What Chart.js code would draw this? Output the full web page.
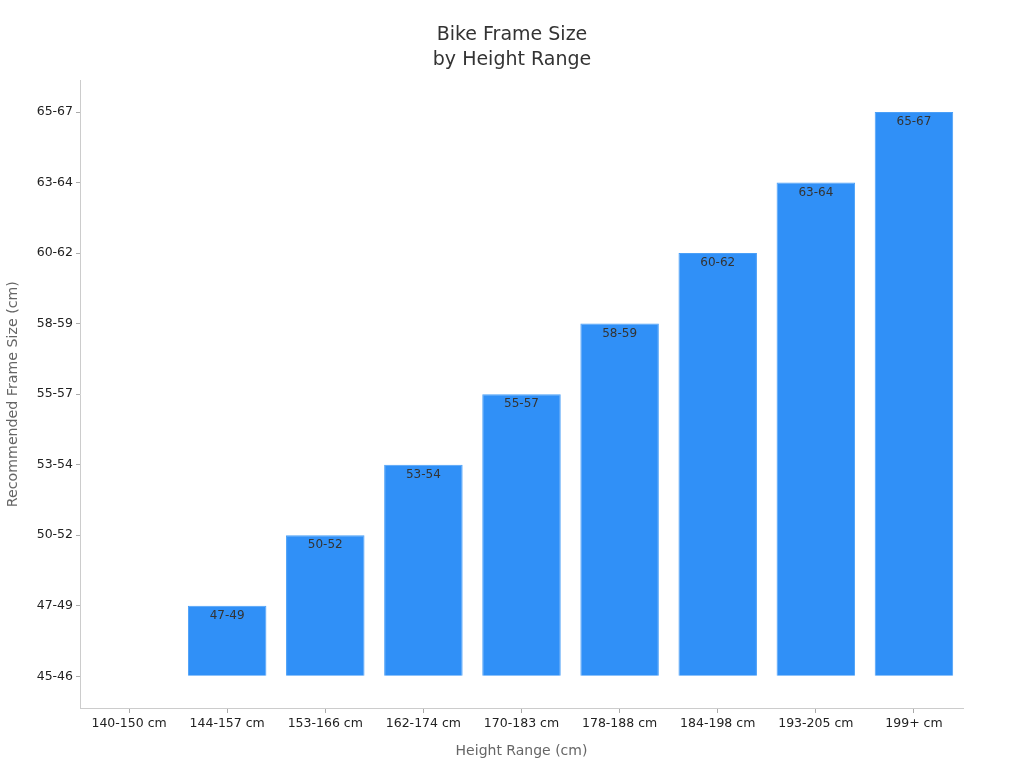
<!DOCTYPE html>
<html>
<head>
<meta charset="utf-8">
<script src="https://cdn.jsdelivr.net/npm/chart.js@4.4.0/dist/chart.umd.min.js"></script>
<style>
  html, body { margin: 0; padding: 0; background: #fff; }
  #wrap { width: 1024px; height: 768px; }
</style>
</head>
<body>
<div id="wrap"><canvas id="chart" width="1024" height="768"></canvas></div>
<script>
// Height ranges on the x axis
const heightRanges = ['140-150 cm', '144-157 cm', '153-166 cm', '162-174 cm', '170-183 cm',
  '178-188 cm', '184-198 cm', '193-205 cm', '199+ cm'];

// Frame size tick labels on the y axis (bottom to top)
const frameSizeTicks = ['45-46', '47-49', '50-52', '53-54', '55-57', '58-59', '60-62', '63-64', '65-67'];

// Recommended frame size per height range
const frameSizes = ['45-46', '47-49', '50-52', '53-54', '55-57', '58-59', '60-62', '63-64', '65-67'];

const frameLevels = frameSizes.map(s => frameSizeTicks.indexOf(s));

const FONT = "'DejaVu Sans', sans-serif";

// Draws the frame size text just inside the top of each bar
const barLabels = {
  id: 'barLabels',
  afterDatasetsDraw(chart) {
    const ctx = chart.ctx;
    const meta = chart.getDatasetMeta(0);
    ctx.save();
    ctx.font = '12px ' + FONT;
    ctx.fillStyle = '#333';
    ctx.textAlign = 'center';
    ctx.textBaseline = 'top';
    meta.data.forEach((bar, i) => {
      if (frameLevels[i] <= 0) return;
      ctx.fillText(frameSizes[i], bar.x, bar.y + 4);
    });
    ctx.restore();
  }
};

new Chart(document.getElementById('chart'), {
  type: 'bar',
  data: {
    labels: heightRanges,
    datasets: [{
      data: frameLevels,
      backgroundColor: '#3090f7',
      borderColor: '#4a9ff7',
      borderWidth: 1,
      categoryPercentage: 1,
      barPercentage: 0.8
    }]
  },
  options: {
    responsive: false,
    animation: false,
    layout: { padding: { top: 10, left: 0, right: 0, bottom: 0 } },
    plugins: {
      legend: { display: false },
      tooltip: { enabled: false },
      title: {
        display: true,
        text: ['Bike Frame Size', 'by Height Range'],
        color: '#333',
        font: { family: FONT, size: 19, weight: 'normal', lineHeight: 1.35 },
        padding: { top: 12, bottom: 7 }
      }
    },
    scales: {
      x: {
        grid: { display: true, drawOnChartArea: false, offset: false, tickLength: 5, color: '#aaa' },
        border: { color: '#ccc' },
        ticks: { color: '#222', font: { family: FONT, size: 12.5 }, padding: 3 },
        title: {
          display: true, text: 'Height Range (cm)', color: '#666',
          font: { family: FONT, size: 14 }, padding: { top: 12, bottom: 8 }
        },
        afterFit(scale) { scale.height = 60; }
      },
      y: {
        min: -0.45,
        max: 8.45,
        afterBuildTicks(scale) {
          scale.ticks = frameSizeTicks.map((t, i) => ({ value: i }));
        },
        grid: { display: true, drawOnChartArea: false, tickLength: 4, color: '#aaa' },
        border: { color: '#ccc' },
        ticks: {
          color: '#222', font: { family: FONT, size: 12.5 }, padding: 3,
          callback: (v) => frameSizeTicks[v]
        },
        title: {
          display: true, text: 'Recommended Frame Size (cm)', color: '#666',
          font: { family: FONT, size: 14.2 }, padding: { top: 5, bottom: 8 }
        },
        afterFit(scale) { scale.width = 80; }
      },
      // empty right-hand gutter so the plot ends where the reference does
      yRight: {
        position: 'right',
        display: true,
        grid: { display: false },
        border: { display: false },
        ticks: { display: false },
        afterFit(scale) { scale.width = 61; }
      }
    }
  },
  plugins: [barLabels]
});
</script>
</body>
</html>
